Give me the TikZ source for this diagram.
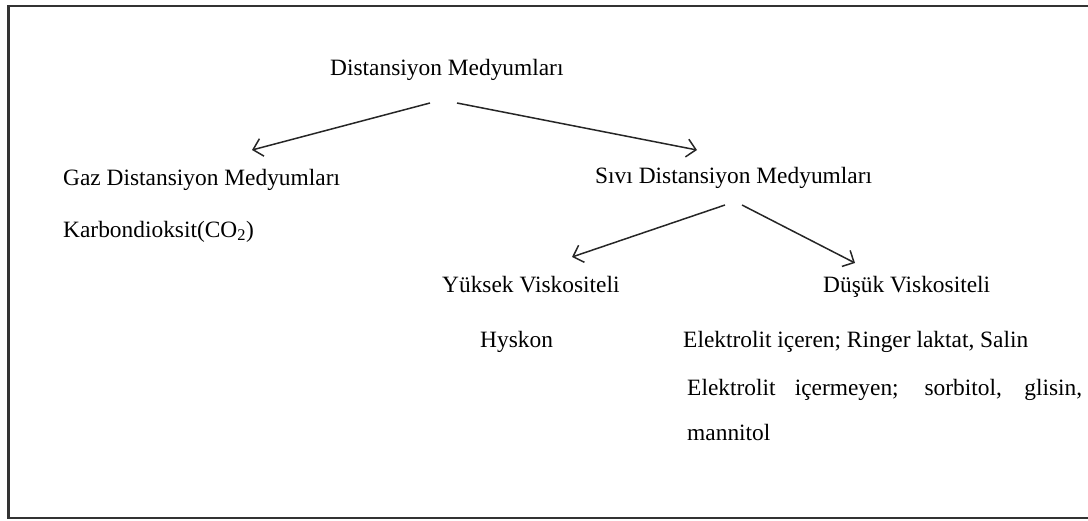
\documentclass[tikz,border=0pt]{standalone}
\usepackage{fontspec}
\setmainfont{Liberation Serif}
\usepackage{tikz}
\usetikzlibrary{arrows.meta}

\begin{document}
\begin{tikzpicture}[x=1pt, y=-1pt,
				   every node/.style={anchor=base west, inner sep=0pt, font=\fontsize{23.4}{45}\selectfont},
				   link/.style={-{Straight Barb[length=9pt, width=18pt]}, line width=1.5pt, black!85},
				   frame/.style={line width=2.2pt, black!80}]
\useasboundingbox (0,0) rectangle (1088,520);
\draw[frame] (1092,6) -- (8.5,6) -- (8.5,518) -- (1092,518);
\node (root) at (330,75) {Distansiyon Medyumları};
\node (gaz) at (63,185) {Gaz Distansiyon Medyumları};
\node (co2) at (63,237) {Karbondioksit(CO\textsubscript{2})};
\node (sivi) at (595,183) {Sıvı Distansiyon Medyumları};
\node (yuksek) at (442,292) {Yüksek Viskositeli};
\node (dusuk) at (823,292) {Düşük Viskositeli};
\node (hyskon) at (480,347) {Hyskon};
\node (elek1) at (683,347) {Elektrolit içeren; Ringer laktat, Salin};
\node[text width=395pt, align=justify] (elek2) at (687,395)
	{\tolerance=10000 Elektrolit içermeyen; sorbitol, glisin, \mbox{mannitol}};
\draw[link] ([shift={(100,28)}]root.base west) -- ([shift={(189,-35)}]gaz.base west);
\draw[link] ([shift={(127,28)}]root.base west) -- ([shift={(102,-33)}]sivi.base west);
\draw[link] ([shift={(130,22)}]sivi.base west) -- ([shift={(130,-35)}]yuksek.base west);
\draw[link] ([shift={(147,22)}]sivi.base west) -- ([shift={(32,-29)}]dusuk.base west);
\end{tikzpicture}
\end{document}
